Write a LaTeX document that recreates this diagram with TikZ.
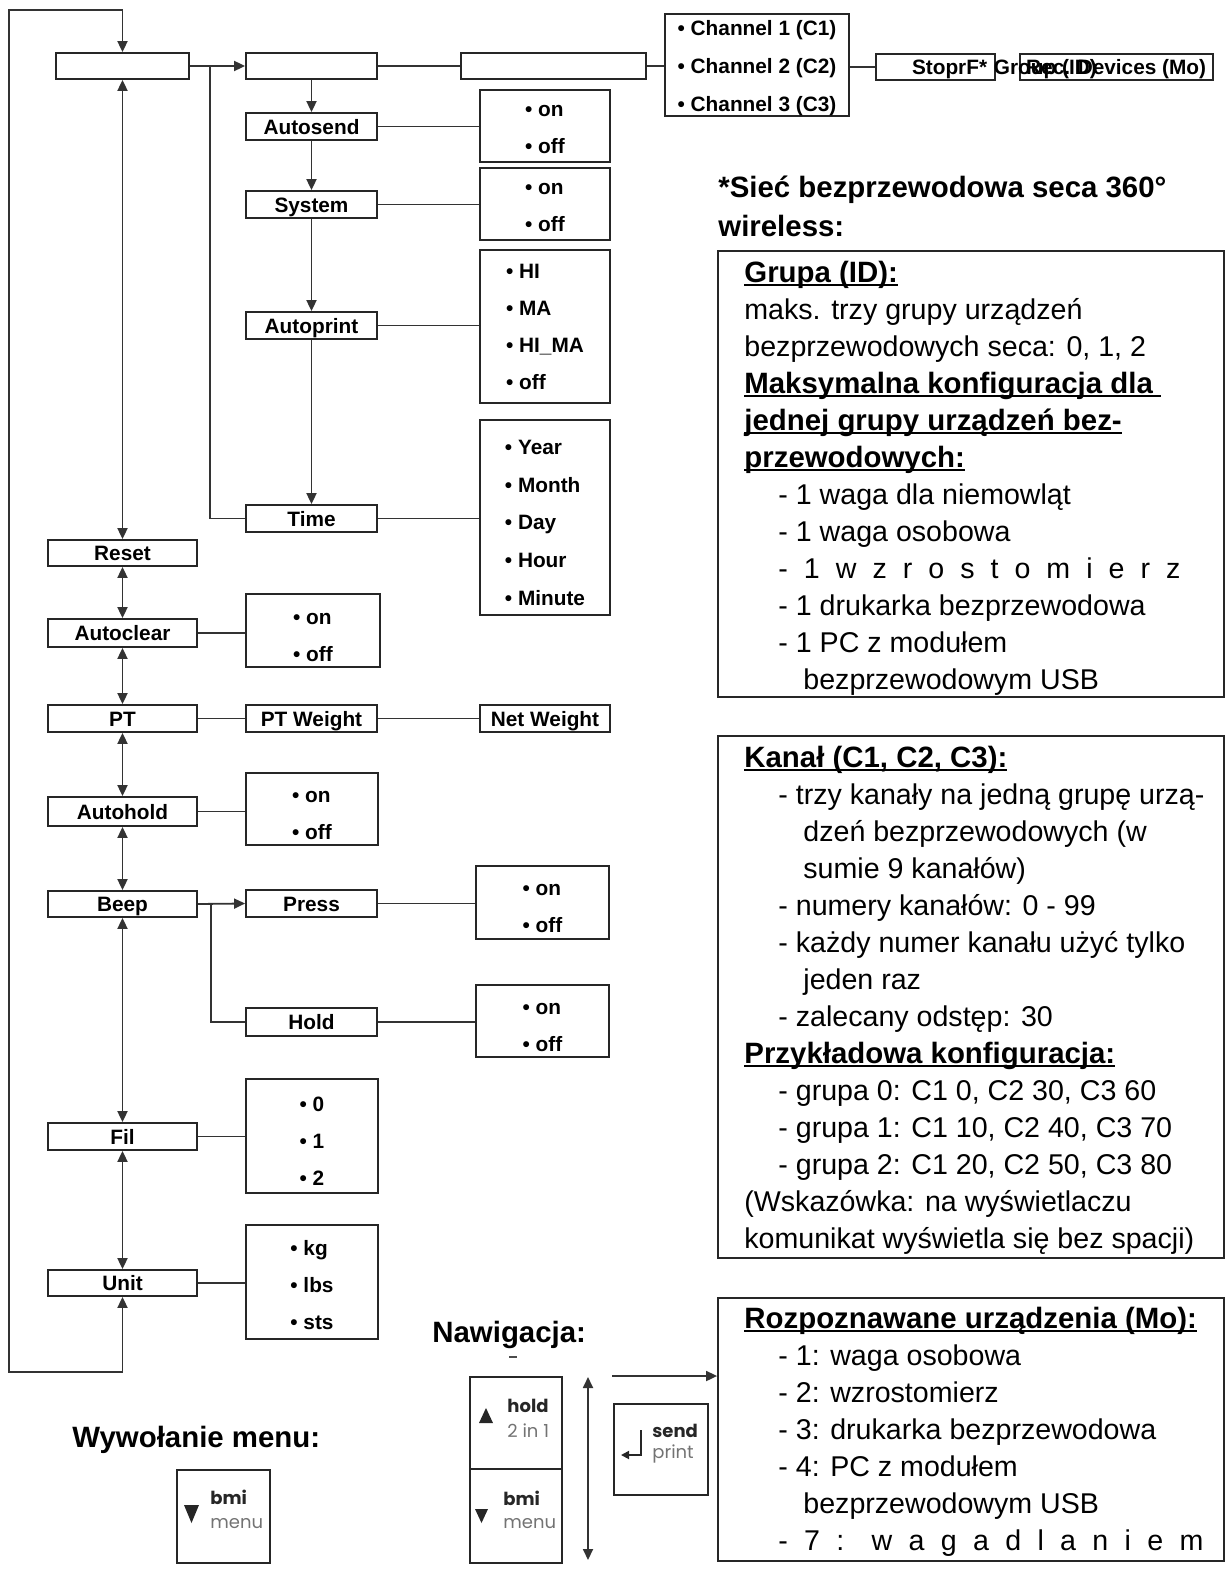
\documentclass[tikz,border=0pt]{standalone}
\usepackage{fontspec}
\setmainfont{Liberation Sans}
\newfontfamily\keyfont{Poppins}
\usetikzlibrary{arrows.meta}
\newcommand{\ulx}[1]{\setbox0\hbox{#1}\rlap{\rule[-2pt]{\wd0}{0.9pt}}\box0}
\newcommand{\sth}[1]{\rule{0pt}{#1}}
% box from pixel corners: \bx[style]{x1}{y1}{x2}{y2}{name} {text};
\newcommand{\bx}[6][]{\node[box,#1,minimum width={(#4-#2)*0.5pt},minimum height={(#5-#3)*0.5pt}] (#6) at ({(#2+#4)/2},{(#3+#5)/2})}
\begin{document}
\begin{tikzpicture}[x=0.5pt,y=-0.5pt,
  box/.style={draw=black!85, line width=0.9pt, inner sep=0pt, text height=7.6pt, text depth=0pt, font=\bfseries\fontsize{10.4}{12}\selectfont},
  opt/.style={align=left, text height=, text depth=, font=\bfseries\fontsize{10.4}{18.5}\selectfont},
  conn/.style={draw=black!80, line width=0.9pt},
  arr/.style={conn, -{Triangle[length=5.5pt,width=5pt]}},
  darr/.style={conn, {Triangle[length=5.5pt,width=5pt]}-{Triangle[length=5.5pt,width=5pt]}},
  txt/.style={anchor=base west, inner sep=0pt, font=\fontsize{14.3}{16}\selectfont},
  hd/.style={anchor=base west, inner sep=0pt, font=\bfseries\fontsize{14.7}{16}\selectfont},
  keyb/.style={anchor=base west, inner sep=0pt, text=black!85, font=\keyfont\bfseries\fontsize{9}{10}\selectfont},
  keyl/.style={anchor=base west, inner sep=0pt, text=black!55, font=\keyfont\fontsize{9}{10}\selectfont},
  tri/.style={fill=black!85}
]
\path[use as bounding box] (0,0) rectangle (1226,1573);

% ---------- top row ----------
\bx{56}{53}{189}{79}{A} {};
\bx{246}{53}{377}{79}{B} {};
\bx{461}{53}{646}{79}{C} {};
\bx[opt, font=\bfseries\fontsize{10.4}{19}\selectfont]{665}{14}{849}{116}{chan} {\sth{10.6pt}• Channel 1 (C1)\\• Channel 2 (C2)\\• Channel 3 (C3)};
\bx{876}{54}{995}{80}{stop} {};
\bx{1020}{54}{1213}{80}{mo} {};
\node[box, draw=none, anchor=east] (stoptxt) at (988,67) {StoprF*};
\node[box, draw=none, anchor=west] (grptxt) at (993,67) {Group (ID)};
\node[box, draw=none, anchor=east] (rectxt) at (1207,67) {Rec. Devices (Mo)};

% ---------- second column ----------
\bx{246}{113}{377}{140}{autosend} {Autosend};
\bx{246}{191}{377}{218}{system} {System};
\bx{246}{312}{377}{339}{autoprint} {Autoprint};
\bx{246}{505}{377}{532}{time} {Time};
\bx[opt]{480}{90}{610}{162}{asopt} {\sth{9.1pt}• on\\• off};
\bx[opt]{480}{168}{610}{240}{syopt} {\sth{9.1pt}• on\\• off};
\bx[opt]{480}{250}{610}{403}{apopt} {• HI\\• MA\\• HI\_MA\\• off};
\bx[opt, font=\bfseries\fontsize{10.4}{18.9}\selectfont]{480}{420}{610}{615}{tiopt} {\sth{12.5pt}• Year\\• Month\\• Day\\• Hour\\• Minute};

% ---------- left column ----------
\bx{48}{540}{197}{566}{reset} {Reset};
\bx{48}{619}{197}{647}{autoclear} {Autoclear};
\bx{48}{705}{197}{732}{pt} {PT};
\bx{48}{797}{197}{826}{autohold} {Autohold};
\bx{48}{891}{197}{917}{beep} {Beep};
\bx{48}{1123}{197}{1150}{fil} {Fil};
\bx{48}{1270}{197}{1296}{unit} {Unit};

\bx[opt]{246}{594}{380}{667}{acopt} {\sth{12.4pt}• on\\• off};
\bx{246}{705}{377}{732}{ptw} {PT Weight};
\bx{480}{705}{610}{732}{netw} {Net Weight};
\bx[opt]{246}{773}{378}{845}{ahopt} {\sth{11.6pt}• on\\• off};
\bx{246}{890}{377}{917}{press} {Press};
\bx[opt]{476}{866}{609}{939}{propt} {\sth{12pt}• on\\• off};
\bx{246}{1008}{377}{1036}{hold} {Hold};
\bx[opt]{476}{985}{609}{1057}{hoopt} {\sth{11.6pt}• on\\• off};
\bx[opt]{246}{1079}{378}{1193}{filopt} {\sth{12.5pt}• 0\\• 1\\• 2};
\bx[opt]{246}{1225}{378}{1339}{unopt} {\sth{11pt}• kg\\• lbs\\• sts};

% ---------- connectors ----------
\coordinate (loopbl) at (9,1372);
\coordinate (looptl) at (9,10);
\draw[darr] (unit.south) -- (unit.south |- loopbl) -- (loopbl) -- (looptl) -- (A.north |- looptl) -- (A.north);
\draw[arr] (A.east) -- (B.west);
\path (A.east) -- (B.west) coordinate[pos=0.37] (brT);
\draw[conn] (brT) |- (time.west);
\draw[conn] (B.east) -- (C.west);
\draw[conn] (C.east) -- (C.east -| chan.west);
\draw[conn] (stop.west -| chan.east) -- (stop.west);
\draw[arr] (B.south) -- (autosend.north);
\draw[arr] (autosend.south) -- (system.north);
\draw[arr] (system.south) -- (autoprint.north);
\draw[arr] (autoprint.south) -- (time.north);
\draw[conn] (autosend.east) -- (autosend.east -| asopt.west);
\draw[conn] (system.east) -- (system.east -| syopt.west);
\draw[conn] (autoprint.east) -- (autoprint.east -| apopt.west);
\draw[conn] (time.east) -- (time.east -| tiopt.west);

\draw[darr] (A.south) -- (reset.north);
\draw[darr] (reset.south) -- (autoclear.north);
\draw[darr] (autoclear.south) -- (pt.north);
\draw[darr] (pt.south) -- (autohold.north);
\draw[darr] (autohold.south) -- (beep.north);
\draw[darr] (beep.south) -- (fil.north);
\draw[darr] (fil.south) -- (unit.north);

\draw[conn] (autoclear.east) -- (autoclear.east -| acopt.west);
\draw[conn] (pt.east) -- (ptw.west);
\draw[conn] (ptw.east) -- (netw.west);
\draw[conn] (autohold.east) -- (autohold.east -| ahopt.west);
\draw[arr] (beep.east) -- (press.west);
\path (beep.east) -- (press.west) coordinate[pos=0.27] (brB);
\draw[conn] (brB) |- (hold.west);
\draw[conn] (press.east) -- (press.east -| propt.west);
\draw[conn] (hold.east) -- (hold.east -| hoopt.west);
\draw[conn] (fil.east) -- (fil.east -| filopt.west);
\draw[conn] (unit.east) -- (unit.east -| unopt.west);

% ---------- right panel ----------
\node[hd] (title1) at (718,198) {*Sieć bezprzewodowa seca 360°};
\node[hd] (title2) at (718,236) {wireless:};

\bx{718}{251}{1224}{697}{p1} {};
\node[hd] (p1a) at (744,282) {\ulx{Grupa (ID):}};
\node[txt] (p1b) at (744,319) {maks. trzy grupy urządzeń};
\node[txt] (p1c) at (744,356) {bezprzewodowych seca: 0, 1, 2};
\node[hd] (p1d) at (744,393) {\ulx{Maksymalna konfiguracja dla\ }};
\node[hd] (p1e) at (744,430) {\ulx{jednej grupy urządzeń bez-}};
\node[hd] (p1f) at (744,467) {\ulx{przewodowych:}};
\node[txt] (p1g) at (778,504) {- 1 waga dla niemowląt};
\node[txt] (p1h) at (778,541) {- 1 waga osobowa};
\node[txt] (p1i) at (778,578) {\makebox[201pt][s]{- 1 w z r o s t o m i e r z}};
\node[txt] (p1j) at (778,615) {- 1 drukarka bezprzewodowa};
\node[txt] (p1k) at (778,652) {- 1 PC z modułem};
\node[txt] (p1l) at (803,689) {bezprzewodowym USB};

\bx{718}{736}{1224}{1258}{p2} {};
\node[hd] (p2a) at (744,767) {\ulx{Kanał (C1, C2, C3):}};
\node[txt] (p2b) at (778,804) {- trzy kanały na jedną grupę urzą-};
\node[txt] (p2c) at (803,841) {dzeń bezprzewodowych (w};
\node[txt] (p2d) at (803,878) {sumie 9 kanałów)};
\node[txt] (p2e) at (778,915) {- numery kanałów: 0 - 99};
\node[txt] (p2f) at (778,952) {- każdy numer kanału użyć tylko};
\node[txt] (p2g) at (803,989) {jeden raz};
\node[txt] (p2h) at (778,1026) {- zalecany odstęp: 30};
\node[hd] (p2i) at (744,1063) {\ulx{Przykładowa konfiguracja:}};
\node[txt] (p2j) at (778,1100) {- grupa 0: C1 0, C2 30, C3 60};
\node[txt] (p2k) at (778,1137) {- grupa 1: C1 10, C2 40, C3 70};
\node[txt] (p2l) at (778,1174) {- grupa 2: C1 20, C2 50, C3 80};
\node[txt] (p2m) at (744,1211) {(Wskazówka: na wyświetlaczu};
\node[txt] (p2n) at (744,1248) {komunikat wyświetla się bez spacji)};

\bx{718}{1298}{1224}{1561}{p3} {};
\node[hd] (p3a) at (744,1328) {\ulx{Rozpoznawane urządzenia (Mo):}};
\node[txt] (p3b) at (778,1365) {- 1: waga osobowa};
\node[txt] (p3c) at (778,1402) {- 2: wzrostomierz};
\node[txt] (p3d) at (778,1439) {- 3: drukarka bezprzewodowa};
\node[txt] (p3e) at (778,1476) {- 4: PC z modułem};
\node[txt] (p3f) at (803,1513) {bezprzewodowym USB};
\node[txt] (p3g) at (778,1550) {\makebox[212.5pt][s]{- 7 : w a g a d l a n i e m}};

% ---------- bottom left: keys ----------
\node[hd] (wyw) at (72,1447) {Wywołanie menu:};
\bx{177}{1470}{270}{1563}{menukey} {};
\fill[tri] (184,1505) -- (199,1505) -- (191.5,1523) -- cycle;
\node[keyb] (mk1) at (210,1504) {bmi};
\node[keyl] (mk2) at (210,1528) {menu};

\node[hd] (nav) at (432,1342) {Nawigacja:};
\draw[black!70, line width=0.6pt] (509,1357) -- (517,1357);
\bx{470}{1377}{562}{1469}{upkey} {};
\bx{470}{1469}{562}{1563}{dnkey} {};
\fill[tri] (479,1423) -- (493,1423) -- (486,1408) -- cycle;
\node[keyb] (uk1) at (507,1412) {hold};
\node[keyl] (uk2) at (507,1437) {2 in 1};
\fill[tri] (475,1509) -- (488,1509) -- (481.5,1523) -- cycle;
\node[keyb] (dk1) at (503,1505) {bmi};
\node[keyl] (dk2) at (503,1528) {menu};

\coordinate (navtop) at (588,1377);
\coordinate (navbot) at (588,1560);
\draw[darr] (navtop) -- (navbot);
\coordinate (navstart) at (612,1376);
\draw[arr] (navstart) -- (navstart -| p3.west);

\bx{614}{1404}{708}{1495}{sendkey} {};
\draw[black!85, line width=0.9pt, -{Triangle[length=4pt,width=4pt]}] (641,1430) -- (641,1455) -- (621,1455);
\node[keyb] (sk1) at (652,1437) {send};
\node[keyl] (sk2) at (652,1458) {print};
\end{tikzpicture}
\end{document}
